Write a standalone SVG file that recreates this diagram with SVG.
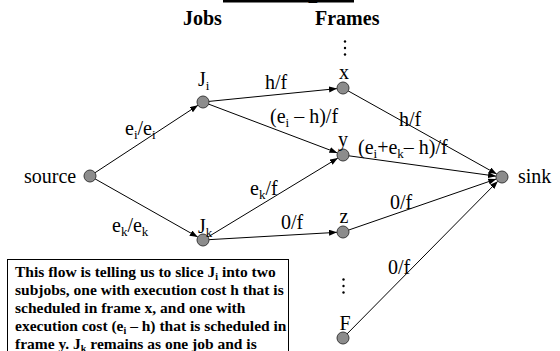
<svg xmlns="http://www.w3.org/2000/svg" width="560" height="351" viewBox="0 0 560 351">
<style>
text{font-family:"Liberation Serif","Times New Roman",serif;fill:#000}
.lbl{font-size:20px}
.hdr{font-size:20px;font-weight:bold}
.sub{font-size:13px}
.note{font-size:15.5px;font-weight:bold}
.node{fill:#8c8c8c;stroke:#3a3a3a;stroke-width:1}
.edge{stroke:#000;stroke-width:1;fill:none;marker-end:url(#arr)}
.dot{fill:#000}
</style>
<defs>
<marker id="arr" markerWidth="9" markerHeight="7" refX="8" refY="3" orient="auto" markerUnits="userSpaceOnUse">
<path d="M0,0 L8,3 L0,6 z" fill="#000"/>
</marker>
</defs>
<rect width="560" height="351" fill="#fff"/>
<g id="title">
<text x="223" y="-4" style="font-size:34px;font-weight:bold">Example</text>
<rect x="223" y="0" width="131" height="2.5" fill="#000"/>
</g>
<g id="headers">
<text class="hdr" x="183" y="25">Jobs</text>
<text class="hdr" x="315" y="25">Frames</text>
</g>
<g id="dots">
<circle class="dot" cx="345" cy="41.5" r="1.2"/>
<circle class="dot" cx="345" cy="48" r="1.2"/>
<circle class="dot" cx="345" cy="54.5" r="1.2"/>
<circle class="dot" cx="343.5" cy="279.5" r="1.2"/>
<circle class="dot" cx="343.5" cy="286" r="1.2"/>
<circle class="dot" cx="343.5" cy="292.5" r="1.2"/>
</g>
<g id="connectors">
<line class="edge" x1="90" y1="176" x2="197.98" y2="105.29"/>
<line class="edge" x1="90" y1="176" x2="197.78" y2="237.04"/>
<line class="edge" x1="203" y1="102" x2="337.03" y2="88.6"/>
<line class="edge" x1="203" y1="102" x2="337.39" y2="152.88"/>
<line class="edge" x1="203" y1="240" x2="337.87" y2="158.11"/>
<line class="edge" x1="203" y1="240" x2="337.01" y2="232.34"/>
<line class="edge" x1="343" y1="88" x2="496.76" y2="174.07"/>
<line class="edge" x1="343" y1="155" x2="496.06" y2="176.18"/>
<line class="edge" x1="343" y1="232" x2="496.33" y2="178.96"/>
<line class="edge" x1="343" y1="338" x2="497.78" y2="181.27"/>
<text class="lbl" x="125" y="135">e<tspan class="sub" dy="4">i</tspan><tspan dy="-4">/e</tspan><tspan class="sub" dy="4">i</tspan></text>
<text class="lbl" x="112" y="232">e<tspan class="sub" dy="4">k</tspan><tspan dy="-4">/e</tspan><tspan class="sub" dy="4">k</tspan></text>
<text class="lbl" x="265" y="89">h/f</text>
<text class="lbl" x="270" y="123">(e<tspan class="sub" dy="4">i</tspan><tspan dy="-4"> – h)/f</tspan></text>
<text class="lbl" x="250" y="195">e<tspan class="sub" dy="4">k</tspan><tspan dy="-4">/f</tspan></text>
<text class="lbl" x="281" y="229">0/f</text>
<text class="lbl" x="399" y="126">h/f</text>
<text class="lbl" x="358" y="154">(e<tspan class="sub" dy="4">i</tspan><tspan dy="-4">+e</tspan><tspan class="sub" dy="4">k</tspan><tspan dy="-4">– h)/f</tspan></text>
<text class="lbl" x="390" y="209">0/f</text>
<text class="lbl" x="388" y="274">0/f</text>
</g>
<g id="source"><circle class="node" cx="90" cy="176" r="6"/><text class="lbl" x="24" y="183">source</text></g>
<g id="Ji"><circle class="node" cx="203" cy="102" r="6"/><text class="lbl" x="198" y="86">J<tspan class="sub" dy="4">i</tspan></text></g>
<g id="Jk"><circle class="node" cx="203" cy="240" r="6"/><text class="lbl" x="198" y="233">J<tspan class="sub" dy="4">k</tspan></text></g>
<g id="x"><circle class="node" cx="343" cy="88" r="6"/><text class="lbl" x="344" y="79" text-anchor="middle">x</text></g>
<g id="y"><circle class="node" cx="343" cy="155" r="6"/><text class="lbl" x="343" y="146" text-anchor="middle">y</text></g>
<g id="z"><circle class="node" cx="343" cy="232" r="6"/><text class="lbl" x="344" y="223" text-anchor="middle">z</text></g>
<g id="F"><circle class="node" cx="343" cy="338" r="6"/><text class="lbl" x="345" y="330" text-anchor="middle">F</text></g>
<g id="sink"><circle class="node" cx="502" cy="177" r="6"/><text class="lbl" x="518" y="183">sink</text></g>
<g id="note">
<rect x="7.5" y="259.5" width="281" height="100" fill="#fff" stroke="#000" stroke-width="1"/>
<text class="note" x="15" y="277">This flow is telling us to slice J<tspan class="sub" dy="3" style="font-size:10px">i</tspan><tspan dy="-3"> into two</tspan></text>
<text class="note" x="15" y="295">subjobs, one with execution cost h that is</text>
<text class="note" x="15" y="313">scheduled in frame x, and one with</text>
<text class="note" x="15" y="331">execution cost (e<tspan class="sub" dy="3" style="font-size:10px">i</tspan><tspan dy="-3"> – h) that is scheduled in</tspan></text>
<text class="note" x="15" y="349">frame y.  J<tspan class="sub" dy="3" style="font-size:10px">k</tspan><tspan dy="-3"> remains as one job and is</tspan></text>
</g>
</svg>
